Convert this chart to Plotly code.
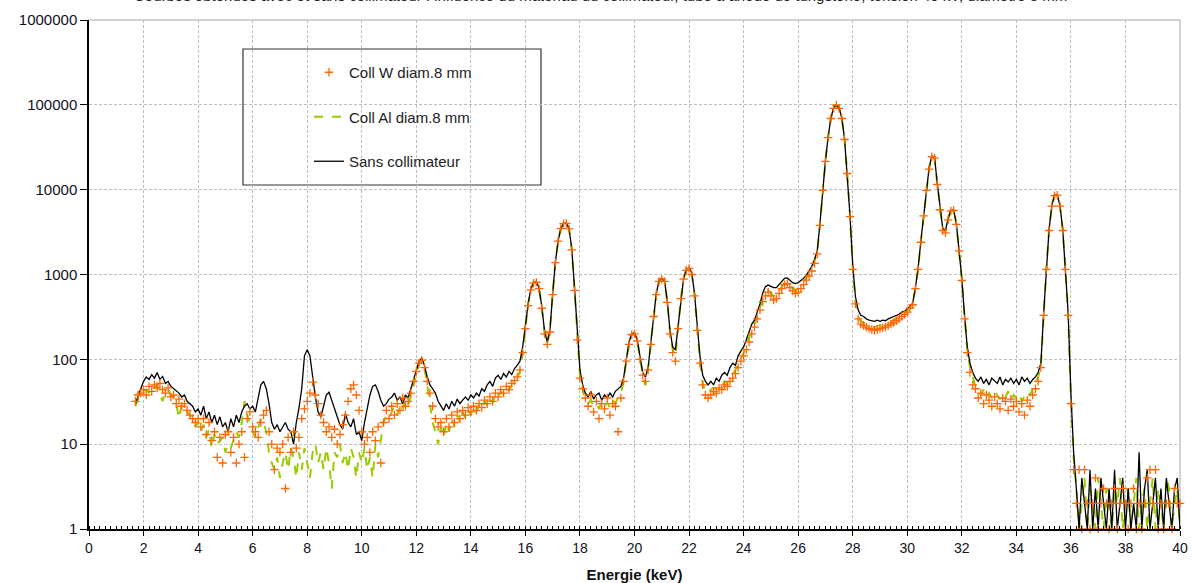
import plotly.graph_objects as go

# ---------------- data ----------------
# Energy grid: 1.7 keV to 40.0 keV, 0.1 keV channels
E_START = 1.7
E_STEP = 0.1

# Sans collimateur (black line)
sans_coll = [
    30, 38, 45,                                             # 1.7-1.9
    55, 62, 58, 66, 60, 70, 58, 63, 52, 55,                 # 2
    48, 45, 42, 40, 36, 38, 32, 30, 28, 24,                 # 3
    26, 22, 28, 20, 24, 18, 22, 17, 21, 16,                 # 4
    18, 14, 20, 16, 22, 18, 24, 28, 30, 26,                 # 5
    28, 24, 35, 50, 55, 45, 30, 18, 15, 17,                 # 6
    14, 16, 18, 15, 14, 10, 18, 27, 45, 110,                # 7
    130, 110, 60, 36, 24, 21, 28, 38, 41, 33,               # 8
    25, 21, 17, 15, 23, 18, 16, 20, 13, 14,                 # 9
    11, 18, 27, 38, 48, 50, 42, 33, 28, 30,                 # 10
    34, 36, 40, 33, 36, 30, 38, 35, 45, 58,                 # 11
    75, 95, 104, 85, 62, 50, 45, 40, 32, 28,                # 12
    25, 30, 26, 32, 28, 34, 30, 33, 36, 33,                 # 13
    38, 35, 40, 37, 45, 42, 50, 55, 48, 60,                 # 14
    65, 58, 68, 62, 72, 66, 78, 85, 95, 140,                # 15
    250, 450, 680, 800, 820, 700, 420, 220, 160, 220,       # 16
    600, 1400, 2500, 3500, 4000, 4050, 3500, 2000, 700, 200,  # 17
    75, 50, 40, 36, 42, 34, 38, 40, 33, 38,                 # 18
    35, 40, 36, 42, 45, 48, 60, 100, 160, 200,              # 19
    205, 170, 110, 70, 62, 80, 160, 330, 600, 850,          # 20
    900, 850, 500, 220, 140, 130, 250, 550, 900, 1150,      # 21
    1200, 1050, 600, 250, 110, 65, 55, 50, 55, 50,          # 22
    60, 55, 65, 70, 65, 80, 90, 85, 110, 125,               # 23
    140, 170, 210, 260, 290, 360, 450, 600, 720, 750,       # 24
    720, 700, 700, 760, 850, 900, 910, 860, 800, 780,       # 25
    800, 850, 900, 980, 1100, 1250, 1500, 1900, 4000, 10000,  # 26
    22000, 42000, 70000, 92000, 100000, 92000, 70000, 40000, 16000, 5000,  # 27
    1300, 550, 380, 330, 320, 300, 290, 285, 280, 290,      # 28
    280, 290, 285, 300, 310, 320, 330, 340, 360, 370,       # 29
    390, 420, 460, 700, 1200, 2500, 5000, 10000, 18000, 25000,  # 30
    24000, 12000, 6000, 3500, 3300, 4600, 5700, 5800, 4000, 2000,  # 31
    900, 330, 140, 90, 70, 60, 55, 62, 52, 58,              # 32
    50, 60, 55, 52, 62, 50, 58, 54, 60, 52,                 # 33
    58, 50, 62, 55, 60, 52, 58, 62, 70, 90,                 # 34
    350, 1200, 3400, 6500, 8600, 8700, 6500, 3400, 1200, 350,  # 35
    40, 8, 3, 1, 4, 2, 1, 5, 1, 3,                          # 36
    1, 4, 2, 1, 3, 1, 5, 1, 2, 4,                           # 37
    1, 3, 1, 2, 1, 8, 1, 3, 5, 1,                           # 38
    2, 4, 1, 3, 1, 4, 2, 1, 3, 4,                           # 39
    1,                                                      # 40
]

# Coll W diam.8 mm (orange crosses)
coll_w = [
    32, 38, 40,
    44, 38, 48, 42, 50, 46, 52, 44, 40, 46,
    36, 38, 30, 34, 28, 30, 25, 22, 20, 18,
    20, 16, 20, 13, 18, 11, 14, 7, 12, 6,
    13, 14, 8, 12, 6, 10, 14, 7, 20, 24,
    16, 14, 12, 18, 22, 25, 14, 10, 5, 9,
    8, 10, 3, 12, 8, 14, 9, 12, 20, 26,
    32, 40, 54, 38, 30, 22, 18, 14, 16, 12,
    15, 10, 13, 17, 22, 32, 45, 50, 38, 25,
    14, 10, 12, 8, 14, 11, 16, 6, 18, 25,
    20, 28, 22, 30, 25, 35, 28, 32, 40, 55,
    72, 90, 98, 80, 55, 40, 28, 20, 16, 18,
    14, 20, 16, 22, 18, 24, 20, 25, 22, 27,
    24, 28, 25, 30, 27, 33, 30, 36, 32, 40,
    36, 44, 40, 48, 44, 52, 56, 62, 75, 120,
    230, 430, 660, 790, 810, 680, 400, 200, 150, 210,
    580, 1380, 2480, 3480, 3980, 4000, 3450, 1950, 650, 170,
    60, 45, 35, 28, 38, 24, 32, 20, 30, 26,
    35, 22, 30, 28, 14, 35, 55, 95, 150, 195,
    200, 165, 100, 65, 55, 75, 150, 320, 580, 830,
    880, 830, 470, 200, 120, 95, 230, 520, 880, 1120,
    1180, 1000, 560, 220, 90, 50, 38, 35, 38, 42,
    40, 46, 44, 50, 48, 55, 60, 68, 80, 95,
    110, 130, 160, 200, 240, 300, 380, 480, 560, 620,
    560, 500, 520, 600, 680, 760, 780, 700, 640, 600,
    620, 680, 760, 860, 960, 1100, 1350, 1750, 3800, 9800,
    21500, 41000, 69000, 91000, 99000, 91000, 69000, 39000, 15500, 4800,
    1150, 450, 300, 260, 250, 240, 230, 225, 220, 225,
    230, 235, 240, 250, 260, 270, 285, 300, 320, 340,
    360, 400, 440, 680, 1150, 2400, 4900, 9800, 17500, 24500,
    23500, 11500, 5800, 3300, 3100, 4400, 5600, 5700, 3900, 1900,
    850, 300, 120, 70, 50, 45, 35, 40, 30, 38,
    33, 28, 36, 30, 26, 35, 32, 25, 34, 28,
    32, 24, 30, 22, 33, 28, 38, 45, 55, 80,
    330, 1150, 3300, 6400, 8500, 8600, 6400, 3300, 1150, 330,
    30, 5, 2, 5, 1, 5, 2, 1, 2, 4,
    1, 2, 3, 2, 1, 2, 3, 1, 2, 3,
    2, 1, 2, 3, 1, 2, 1, 2, 4, 5,
    2, 5, 1, 2, 1, 2, 2, 1, 3, 2,
    2,
]

# Coll Al diam.8 mm (green dashed line)
coll_al = [
    28, 34, 36,
    42, 44, 40, 48, 45, 50, 40, 32, 42, 44,
    38, 35, 30, 20, 30, 28, 24, 22, 20, 16,
    18, 14, 17, 12, 15, 9, 13, 10, 11, 12,
    8, 10, 9, 11, 14, 12, 18, 32, 22, 18,
    14, 12, 16, 20, 18, 14, 8, 6, 5, 7,
    4, 6, 8, 5, 9, 7, 4, 8, 5, 9,
    6, 4, 8, 10, 6, 8, 5, 9, 6, 3,
    8, 7, 10, 6, 8, 5, 9, 7, 4, 8,
    6, 9, 5, 7, 4, 10, 7, 12, 18, 22,
    20, 24, 28, 22, 30, 26, 32, 28, 38, 52,
    70, 88, 96, 78, 50, 28, 18, 14, 10, 16,
    12, 18, 14, 20, 16, 22, 18, 24, 20, 25,
    22, 27, 24, 29, 26, 32, 29, 35, 31, 38,
    35, 42, 38, 46, 43, 50, 54, 60, 72, 118,
    225, 440, 670, 795, 815, 690, 410, 210, 155, 215,
    590, 1390, 2490, 3490, 3990, 4020, 3480, 1980, 680, 190,
    65, 44, 34, 30, 33, 28, 30, 26, 32, 28,
    31, 27, 33, 30, 36, 40, 55, 95, 155, 198,
    202, 168, 105, 66, 50, 78, 155, 325, 590, 840,
    890, 840, 480, 210, 130, 110, 240, 530, 890, 1140,
    1190, 1020, 580, 230, 95, 52, 42, 40, 44, 46,
    45, 50, 48, 55, 52, 60, 66, 74, 88, 100,
    120, 145, 180, 220, 260, 320, 410, 520, 600, 650,
    600, 560, 560, 640, 720, 800, 820, 750, 690, 660,
    680, 740, 810, 900, 1000, 1150, 1400, 1800, 3900, 9900,
    21800, 41500, 69500, 91500, 99500, 91500, 69500, 39500, 15800, 4900,
    1200, 480, 320, 280, 270, 260, 250, 245, 240, 248,
    250, 255, 260, 270, 280, 290, 300, 315, 335, 350,
    370, 410, 450, 690, 1180, 2450, 4950, 9900, 17800, 24800,
    23800, 11800, 5900, 3400, 3200, 4500, 5650, 5750, 3950, 1950,
    880, 320, 130, 80, 60, 48, 42, 38, 44, 36,
    40, 35, 42, 38, 34, 40, 36, 42, 33, 38,
    35, 40, 32, 37, 42, 38, 45, 52, 62, 85,
    340, 1180, 3350, 6450, 8550, 8650, 6450, 3350, 1180, 340,
    35, 7, 3, 1, 2, 4, 1, 3, 2, 1,
    4, 2, 1, 3, 2, 1, 3, 2, 4, 1,
    2, 3, 1, 2, 4, 1, 2, 3, 1, 2,
    4, 1, 3, 2, 1, 4, 3, 1, 2, 3,
    1,
]

energy = [round(E_START + E_STEP * i, 1) for i in range(len(sans_coll))]
assert len(sans_coll) == len(coll_w) == len(coll_al) == 384

x_ticks = list(range(0, 41, 2))
y_ticks = [1, 10, 100, 1000, 10000, 100000, 1000000]
y_tick_text = ["1", "10", "100", "1000", "10000", "100000", "1000000"]

series_names = ["Coll W diam.8 mm", "Coll Al diam.8 mm", "Sans collimateur"]

# ---------------- figure ----------------
FONT = "Liberation Sans, Arial, sans-serif"
W, H = 1192, 583
ML, MR, MT, MB = 89, 12, 20, 54
PW, PH = W - ML - MR, H - MT - MB


def px(xp):
    return (xp - ML) / PW


def py(yp):
    return 1 - (yp - MT) / PH


fig = go.Figure()

fig.add_trace(go.Scatter(
    x=energy, y=coll_al, mode="lines", name=series_names[1],
    line=dict(color="#99CC00", width=2, dash="dash"),
    legendgroup="al", legendrank=2,
))
fig.add_trace(go.Scatter(
    x=energy, y=sans_coll, mode="lines", name=series_names[2],
    line=dict(color="#000000", width=1.3),
    legendgroup="sans", legendrank=3,
))
fig.add_trace(go.Scatter(
    x=energy, y=coll_w, mode="markers", name=series_names[0],
    marker=dict(symbol="cross-thin", size=6, color="#FF6600",
                line=dict(color="#FF6600", width=1.3)),
    cliponaxis=False,
    legendgroup="w", legendrank=1,
))

grid_color = "#BEBEBE"

fig.update_layout(
    width=W, height=H,
    margin=dict(l=ML, r=MR, t=MT, b=MB, autoexpand=False),
    paper_bgcolor="white", plot_bgcolor="white",
    font=dict(family=FONT, color="#111122"),
    showlegend=True,
    legend=dict(
        x=px(309), y=py(56), xanchor="left", yanchor="top",
        bgcolor="rgba(0,0,0,0)", borderwidth=0,
        font=dict(family=FONT, size=15, color="#222222"),
        traceorder="grouped", tracegroupgap=22,
        itemsizing="trace",
    ),
    xaxis=dict(
        range=[0, 40], tickvals=x_ticks,
        ticks="outside", ticklen=5, tickcolor="black",
        showline=True, linecolor="black", linewidth=1.5,
        showgrid=True, gridcolor=grid_color, griddash="3px,2px", gridwidth=1,
        zeroline=False,
        tickfont=dict(family=FONT, size=14, color="#111122"),
        minor=dict(dtick=0.2, ticks="inside", ticklen=3, tickcolor="black", showgrid=False),
        title=dict(text="Energie (keV)", standoff=16,
                   font=dict(family=FONT, size=15, color="#111111", weight="bold")),
    ),
    yaxis=dict(
        type="log", range=[0, 6],
        tickvals=y_ticks, ticktext=y_tick_text,
        ticks="outside", ticklen=7, tickcolor="black",
        showline=True, linecolor="black", linewidth=1.5,
        showgrid=True, gridcolor=grid_color, griddash="3px,2px", gridwidth=1,
        zeroline=False,
        tickfont=dict(family=FONT, size=15, color="#111122"),
    ),
    shapes=[
        # top and right frame of the plot area
        dict(type="line", xref="paper", yref="paper", x0=0, x1=1, y0=1, y1=1,
             line=dict(color="#A6A6A6", width=1), layer="below"),
        dict(type="line", xref="paper", yref="paper", x0=1, x1=1, y0=0, y1=1,
             line=dict(color="#A6A6A6", width=1), layer="below"),
        # legend box
        dict(type="rect", xref="paper", yref="paper",
             x0=px(243), x1=px(541), y0=py(185), y1=py(49),
             line=dict(color="#333333", width=1.2), fillcolor="white", layer="below"),
    ],
    annotations=[
        dict(text="Courbes obtenues avec et sans collimateur : influence du matériau du collimateur, tube à anode de tungstène, tension 40 kV, diamètre 8 mm",
             xref="paper", yref="paper", x=px(600), y=py(6),
             xanchor="center", yanchor="bottom", showarrow=False,
             font=dict(family=FONT, size=15, color="#222222")),
    ],
)

fig.write_html(
    "out.html",
    config={"displayModeBar": False},
    post_script="document.body.style.margin='0';document.body.style.padding='0';",
)
